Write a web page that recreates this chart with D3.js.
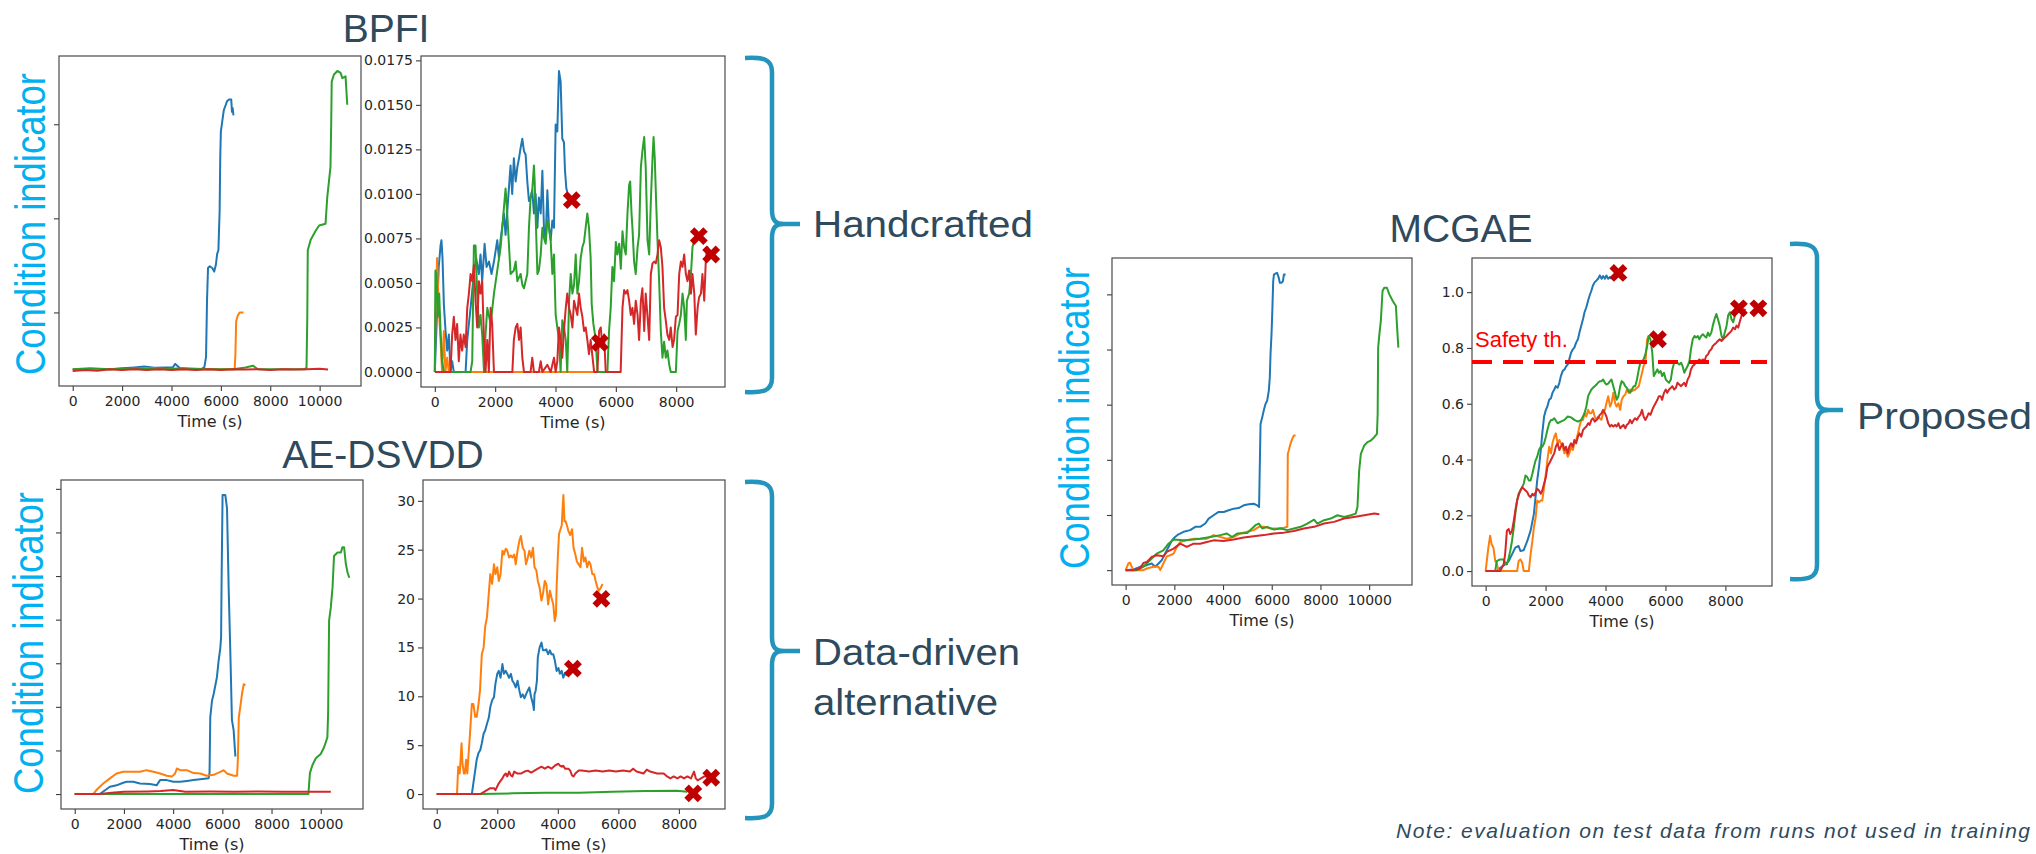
<!DOCTYPE html>
<html>
<head>
<meta charset="utf-8">
<script src="https://cdn.jsdelivr.net/npm/d3@7"></script>
<style>
  body { margin: 0; background: #fff; }
  svg { display: block; }
</style>
</head>
<body>
<svg id="fig" width="2036" height="854"></svg>
<script>
// ---- data: [time (s), condition indicator] ----

const runColors = ["#1f77b4", "#ff7f0e", "#2ca02c", "#d62728"];

// BPFI, full runs
const bpfiAllBlue = [[0,0.0001],[400,0.00005],[900,0.0001],[1500,0.0001],[2000,0.00015],[2500,0.0002],[2900,0.00025],[3300,0.00018],[3800,0.0002],[4050,0.0002],[4150,0.0004],[4350,0.00015],[4800,0.0001],[5200,0.0001],[5330,0.0002],[5400,0.0008],[5440,0.004],[5480,0.0058],[5550,0.0059],[5650,0.0058],[5730,0.0056],[5800,0.006],[5850,0.0066],[5900,0.0068],[5950,0.009],[5975,0.012],[6000,0.0135],[6060,0.0141],[6120,0.0147],[6200,0.015],[6250,0.0152],[6330,0.0153],[6420,0.0153],[6450,0.0146],[6480,0.0148],[6510,0.0144]];
const bpfiAllOrange = [[0,0.0001],[1000,0.0001],[2000,0.0001],[3000,0.00015],[4000,0.0001],[5000,0.0001],[6000,0.0001],[6560,0.0001],[6590,0.001],[6620,0.0028],[6680,0.0031],[6760,0.0033],[6850,0.0033],[6920,0.0033]];
const bpfiAllGreen = [[0,0.0001],[700,0.00015],[1500,0.0001],[2500,0.00015],[3500,0.0001],[4500,0.00015],[5500,0.0001],[6500,0.0001],[7000,0.0002],[7300,0.0003],[7500,0.0001],[8500,0.0001],[9400,0.0001],[9470,0.0002],[9500,0.003],[9520,0.0068],[9640,0.0074],[9840,0.0079],[9980,0.0082],[10240,0.0083],[10310,0.0098],[10440,0.0115],[10470,0.014],[10490,0.0163],[10580,0.0167],[10720,0.0169],[10850,0.0168],[10920,0.0165],[11050,0.0166],[11120,0.015]];
const bpfiAllRed = [[0,0],[500,0.00005],[1000,0.00002],[1500,0.0001],[2000,0.00005],[2500,0.0001],[3000,0.00005],[3500,0.0001],[4000,0.00005],[4500,0.0001],[5000,0.00005],[5500,0.0001],[6000,0.00005],[6500,0.0001],[7000,0.00008],[7500,0.0001],[8000,0.00005],[8500,0.0001],[9000,0.00008],[9500,0.0001],[10000,0.00012],[10340,0.00008]];

// BPFI, test runs
const bpfiTestBlue = [[0,0],[130,0.0059],[190,0.0071],[220,0.0074],[255,0.0064],[300,0.0038],[355,0.0023],[410,0.0012],[465,0.0021],[520,0],[575,0.0006],[630,0],[1020,0],[1075,0.0018],[1185,0.0036],[1295,0.0055],[1370,0.0064],[1460,0.0055],[1515,0.0066],[1570,0.0051],[1650,0.0072],[1715,0.0059],[1795,0.0062],[1880,0.0055],[1960,0.0062],[2070,0.0074],[2125,0.0064],[2180,0.0074],[2290,0.0089],[2345,0.0077],[2455,0.0103],[2510,0.0116],[2565,0.01],[2620,0.012],[2680,0.0107],[2735,0.0115],[2790,0.012],[2845,0.0126],[2900,0.0131],[2955,0.0124],[3010,0.0122],[3065,0.0107],[3120,0.0096],[3175,0.0098],[3230,0.0102],[3285,0.0089],[3340,0.01],[3400,0.0081],[3450,0.0098],[3510,0.0089],[3565,0.0113],[3620,0.0079],[3675,0.0075],[3730,0.0102],[3785,0.0081],[3840,0.0074],[3895,0.0085],[3950,0.0081],[4005,0.0139],[4060,0.0135],[4115,0.0169],[4170,0.0163],[4225,0.0131],[4280,0.0129],[4315,0.0113],[4360,0.0103],[4390,0.0101]];
const bpfiTestOrange = [[0,0],[20,0.003],[75,0.0064],[130,0.0036],[190,0.0018],[240,0],[300,0.0023],[350,0],[410,0.0008],[465,0],[5500,0]];
const bpfiTestGreen = [[0,0],[20,0.0057],[55,0.0055],[100,0.0031],[145,0.0044],[190,0.0023],[240,0.0006],[300,0],[1185,0],[1240,0.0006],[1295,0.0071],[1350,0.0071],[1405,0.0044],[1460,0.0025],[1515,0.0032],[1570,0.0021],[1630,0],[1680,0.0021],[1740,0.0036],[1850,0.0027],[1960,0.0044],[2070,0.0057],[2180,0.007],[2290,0.0092],[2345,0.0103],[2400,0.0089],[2455,0.0072],[2510,0.0055],[2620,0.0057],[2680,0.0062],[2735,0.0051],[2845,0.0055],[2900,0.0049],[2955,0.0047],[3065,0.0055],[3120,0.0081],[3175,0.0098],[3230,0.0102],[3285,0.0116],[3310,0.0107],[3340,0.0089],[3400,0.0055],[3450,0.0057],[3510,0.0066],[3565,0.0081],[3620,0.0075],[3675,0.0072],[3730,0.0085],[3785,0.0081],[3840,0.0074],[3895,0.0055],[3950,0.0066],[4005,0.0032],[4060,0.0025],[4115,0.0018],[4170,0],[4225,0.0029],[4280,0.0025],[4340,0.0018],[4390,0],[4450,0.004],[4505,0.0055],[4560,0.0044],[4615,0.0049],[4670,0.0066],[4725,0.0044],[4780,0.0051],[4835,0.0064],[4890,0.007],[4945,0.0073],[5000,0.0081],[5055,0.0089],[5110,0.0081],[5165,0.0064],[5200,0.0038],[5255,0.0027],[5335,0.0018],[5390,0],[5720,0],[5775,0.0023],[5830,0.0036],[5885,0.0059],[5940,0.0051],[6000,0.0073],[6050,0.0066],[6110,0.0072],[6165,0.0058],[6220,0.0079],[6275,0.007],[6330,0.0066],[6385,0.0089],[6440,0.0105],[6475,0.0107],[6520,0.0089],[6550,0.0081],[6605,0.0062],[6660,0.0055],[6720,0.007],[6770,0.0077],[6830,0.0115],[6880,0.0124],[6940,0.0132],[6990,0.0115],[7050,0.0074],[7105,0.0066],[7160,0.0096],[7215,0.012],[7250,0.0132],[7290,0.012],[7335,0.0096],[7380,0.0074],[7435,0.0051],[7490,0.0023],[7545,0.0008],[7600,0.0017],[7655,0.0008],[7710,0.0012],[7770,0.0004],[7820,0],[7990,0],[8045,0.0023],[8100,0.0027],[8155,0.0032],[8210,0.0044],[8265,0.0036],[8320,0.0018],[8355,0.004],[8430,0.0044],[8490,0.0055],[8540,0.007],[8600,0.0074],[8650,0.0076]];
const bpfiTestRed = [[0,0],[520,0],[575,0.0021],[630,0.0031],[685,0.0018],[740,0.0027],[795,0.0006],[850,0.0021],[905,0.0012],[960,0.0021],[1020,0.0014],[1075,0.0036],[1130,0.0044],[1185,0.0055],[1240,0.0051],[1295,0.006],[1350,0.004],[1405,0.0025],[1460,0.0051],[1515,0.0044],[1570,0.0051],[1630,0.0018],[1680,0],[1740,0.0018],[1790,0],[1850,0.0036],[1900,0.0027],[1960,0],[2570,0],[2620,0.0018],[2680,0.0025],[2735,0.0027],[2790,0.0018],[2845,0.0025],[2900,0.0008],[2955,0],[3175,0],[3230,0.0008],[3285,0],[3450,0],[3510,0.0006],[3565,0],[3730,0.0004],[3840,0],[3950,0.0008],[4005,0],[4060,0.0006],[4115,0.0025],[4170,0.0018],[4225,0.0008],[4280,0.0023],[4340,0.0036],[4390,0.0044],[4450,0.0036],[4505,0.0032],[4560,0.0025],[4615,0.004],[4670,0.0036],[4725,0.0032],[4780,0.0044],[4835,0.0036],[4890,0.0031],[4945,0.0023],[5000,0.0025],[5055,0.0018],[5110,0.001],[5165,0.0018],[5280,0],[5390,0],[5445,0.0023],[5500,0.0025],[5555,0.0014],[5610,0.0021],[5665,0],[6160,0],[6220,0.0036],[6275,0.0046],[6330,0.0044],[6385,0.0046],[6440,0.004],[6495,0.0032],[6550,0.0036],[6605,0.0027],[6660,0.004],[6720,0.0032],[6770,0.0018],[6830,0.004],[6880,0.0047],[6940,0.0023],[6990,0.0044],[7050,0.0031],[7105,0.0018],[7160,0.0055],[7215,0.0061],[7270,0.0062],[7325,0.0061],[7380,0.0066],[7435,0.0074],[7490,0.007],[7545,0.0059],[7600,0.0036],[7655,0.0029],[7710,0.0021],[7770,0.0018],[7820,0.0025],[7880,0.0014],[7930,0.0018],[7990,0.0031],[8045,0.0032],[8100,0.0055],[8155,0.0062],[8210,0.0059],[8265,0.0066],[8320,0.0055],[8375,0.0051],[8430,0.0057],[8490,0.0044],[8540,0.0055],[8600,0.0044],[8650,0.0021],[8710,0.0036],[8760,0.0042],[8820,0.0044],[8870,0.0055],[8930,0.004],[8985,0.0064],[9040,0.007],[9100,0.0066]];
const bpfiFailures = [[4540,0.00965],[5470,0.00164],[8750,0.00763],[9160,0.0066]];

// AE-DSVDD, full runs
const aeAllBlue = [[0,0],[1020,0],[1430,0.84],[1700,1.0],[1970,1.3],[2110,1.4],[2380,1.4],[2650,1.2],[3060,1.14],[3330,1.0],[3470,1.6],[3740,1.6],[4010,1.4],[4290,1.4],[4560,1.5],[4830,1.6],[5100,1.7],[5440,1.8],[5480,2.4],[5510,8.8],[5580,10.7],[5650,11.5],[5780,13.4],[5850,15.3],[5920,16.8],[5950,18.0],[5970,24.5],[6010,34.3],[6120,34.3],[6190,32.8],[6260,23.3],[6330,15.7],[6390,8.5],[6460,7.3],[6530,4.3]];
const aeAllOrange = [[0,0],[750,0],[880,0.46],[1020,0.84],[1160,1.2],[1430,1.8],[1700,2.36],[1970,2.55],[2250,2.55],[2650,2.55],[2920,2.74],[3200,2.55],[3470,2.36],[3740,2.1],[3950,2.0],[4080,2.36],[4150,2.93],[4290,2.74],[4560,2.74],[4830,2.4],[5100,2.36],[5370,2.1],[5650,2.2],[5920,2.55],[6050,2.74],[6190,2.36],[6460,2.1],[6600,2.1],[6630,3.9],[6670,8.8],[6730,10.0],[6800,11.5],[6870,12.6],[6940,12.5]];
const aeAllGreen = [[0,0],[9500,0],[9560,2.4],[9660,3.3],[9800,4.1],[10000,4.6],[10140,5.4],[10270,6.5],[10300,9.2],[10340,19.9],[10410,21.4],[10480,23.7],[10540,27.3],[10680,27.7],[10820,27.7],[10880,28.3],[10950,28.3],[11020,26.4],[11090,25.4],[11160,24.8]];
const aeAllRed = [[0,0],[1020,0],[1500,0.15],[2000,0.25],[3000,0.3],[3500,0.34],[4000,0.46],[4500,0.27],[5500,0.3],[6500,0.27],[7500,0.3],[8500,0.25],[9500,0.27],[10410,0.27]];

// AE-DSVDD, test runs
const aeTestBlue = [[0,0],[1160,0],[1210,1.1],[1270,2.4],[1320,3.5],[1380,4.2],[1440,4.5],[1490,5.2],[1550,6.2],[1600,6.5],[1660,7.2],[1720,7.8],[1770,8.9],[1830,9.6],[1890,9.9],[1940,11.3],[2000,12.3],[2050,12.6],[2110,11.9],[2170,13.3],[2220,12.3],[2280,12.6],[2330,12.3],[2390,11.9],[2450,12.3],[2500,11.6],[2560,11.3],[2610,10.9],[2670,11.6],[2730,10.6],[2780,9.9],[2840,10.2],[2900,9.8],[2950,10.2],[3010,10.6],[3060,10.9],[3120,9.9],[3180,9.2],[3210,8.6],[3230,10.2],[3270,10.6],[3310,11.6],[3340,14.0],[3400,15.0],[3460,15.5],[3510,14.7],[3570,14.7],[3620,14.8],[3680,14.3],[3740,14.7],[3790,14.3],[3850,14.3],[3900,13.7],[3960,12.6],[4020,12.9],[4070,12.3],[4130,12.6],[4180,11.9],[4240,12.4],[4300,12.1]];
const aeTestOrange = [[0,0],[670,0],[710,2.8],[760,2.1],[820,5.2],[850,3.1],[900,2.1],[930,2.1],[970,3.5],[1010,2.1],[1040,3.5],[1100,6.2],[1160,9.2],[1210,9.2],[1270,7.9],[1320,7.9],[1380,9.2],[1430,10.6],[1490,14.3],[1550,15.0],[1600,17.1],[1660,18.1],[1720,20.5],[1770,22.5],[1830,21.5],[1890,23.5],[1940,22.5],[2000,23.2],[2050,21.8],[2110,22.5],[2170,24.9],[2220,24.5],[2280,25.1],[2330,24.9],[2390,24.2],[2450,24.4],[2500,24.2],[2560,24.5],[2610,23.5],[2670,24.9],[2730,25.9],[2780,26.4],[2840,25.2],[2900,24.9],[2950,23.5],[3010,24.2],[3060,24.9],[3120,24.2],[3180,25.2],[3230,23.2],[3290,22.9],[3340,21.8],[3400,21.1],[3460,19.8],[3510,20.5],[3570,21.8],[3620,21.5],[3680,19.4],[3740,20.8],[3790,20.1],[3850,19.4],[3900,17.7],[3940,18.4],[3960,21.1],[4000,24.2],[4040,26.6],[4130,27.5],[4160,29.3],[4185,30.6],[4220,27.9],[4260,27.9],[4300,27.5],[4350,26.9],[4410,26.5],[4470,27.1],[4520,25.2],[4580,24.5],[4630,23.8],[4690,23.5],[4750,23.2],[4800,25.2],[4860,23.8],[4910,24.2],[4970,23.2],[5030,23.8],[5080,23.5],[5140,22.5],[5200,22.5],[5250,21.8],[5310,21.1],[5360,20.8],[5420,21.1],[5475,21.5]];
const aeTestGreen = [[0,0],[1440,0],[2500,0.07],[3600,0.14],[4700,0.14],[5800,0.24],[6900,0.3],[7940,0.34],[8280,0.24]];
const aeTestRed = [[0,0],[1440,0],[1550,0.2],[1660,0.4],[1770,0.6],[1890,0.6],[1940,0.4],[2050,1.1],[2170,1.6],[2220,1.9],[2280,2.1],[2330,1.8],[2390,2.3],[2450,1.9],[2500,1.8],[2560,2.3],[2670,2.1],[2780,2.1],[2900,2.3],[3010,2.4],[3120,2.2],[3230,2.4],[3340,2.6],[3460,2.8],[3570,2.6],[3680,2.8],[3790,2.6],[3900,2.9],[4020,3.1],[4070,2.9],[4130,2.8],[4180,2.9],[4240,2.6],[4350,2.6],[4410,2.4],[4470,1.9],[4520,1.8],[4580,2.1],[4690,2.4],[4800,2.4],[5030,2.3],[5250,2.4],[5480,2.3],[5700,2.4],[5920,2.3],[6150,2.4],[6380,2.3],[6490,2.6],[6600,2.3],[6830,2.1],[6940,2.5],[7050,2.3],[7280,2.1],[7500,2.1],[7610,1.8],[7720,1.6],[7830,1.8],[7950,1.6],[8060,1.8],[8170,1.6],[8280,1.8],[8400,1.6],[8500,2.3],[8560,1.6],[8620,1.4],[8730,1.6],[8840,1.8],[8950,1.8]];
const aeFailures = [[5440,19.97],[4500,12.83],[8475,0.07],[9070,1.67]];

// MCGAE, full runs
const mcAllBlue = [[0,0],[300,0.002],[590,0.012],[870,0.018],[1070,0.024],[1210,0.012],[1350,0.024],[1480,0.036],[1620,0.06],[1760,0.084],[1900,0.108],[2030,0.12],[2170,0.13],[2380,0.139],[2650,0.145],[2860,0.157],[3060,0.157],[3270,0.169],[3410,0.187],[3610,0.199],[3820,0.211],[4030,0.211],[4230,0.217],[4440,0.223],[4640,0.225],[4850,0.235],[5060,0.239],[5260,0.241],[5400,0.235],[5480,0.229],[5540,0.53],[5610,0.554],[5670,0.578],[5740,0.602],[5810,0.614],[5880,0.651],[5920,0.699],[5950,0.783],[5990,0.855],[6020,0.928],[6060,1.048],[6090,1.072],[6150,1.075],[6220,1.078],[6290,1.06],[6330,1.042],[6400,1.042],[6460,1.048],[6500,1.072],[6570,1.072]];
const mcAllOrange = [[0,0],[110,0.024],[180,0.027],[250,0.012],[320,0],[730,0],[870,0.006],[1140,0.012],[1350,0.012],[1420,0],[1550,0.024],[1690,0.05],[1830,0.054],[1970,0.06],[2100,0.084],[2240,0.102],[2510,0.108],[2790,0.114],[3060,0.114],[3340,0.114],[3610,0.127],[3890,0.12],[4160,0.114],[4440,0.12],[4710,0.133],[4990,0.139],[5260,0.145],[5470,0.157],[5680,0.157],[5950,0.151],[6220,0.151],[6500,0.154],[6640,0.157],[6660,0.422],[6700,0.434],[6770,0.458],[6840,0.476],[6910,0.488],[6980,0.488]];
const mcAllGreen = [[0,0],[450,0],[730,0.012],[1000,0.036],[1280,0.06],[1550,0.072],[1760,0.096],[1970,0.111],[2380,0.108],[2790,0.111],[3060,0.114],[3480,0.12],[3890,0.127],[4160,0.133],[4370,0.12],[4580,0.133],[4990,0.135],[5190,0.151],[5330,0.163],[5470,0.169],[5610,0.151],[5810,0.157],[6090,0.147],[6360,0.151],[6640,0.145],[6910,0.151],[7190,0.157],[7460,0.169],[7740,0.183],[7870,0.169],[8150,0.181],[8420,0.187],[8700,0.199],[8970,0.193],[9250,0.199],[9450,0.205],[9520,0.229],[9590,0.361],[9660,0.422],[9800,0.452],[9930,0.464],[10070,0.47],[10210,0.482],[10320,0.494],[10350,0.566],[10370,0.807],[10420,0.855],[10480,0.904],[10550,1.012],[10620,1.024],[10730,1.024],[10830,1.0],[10970,0.976],[11100,0.958],[11140,0.892],[11200,0.807]];
const mcAllRed = [[0,0],[320,0],[590,0.006],[730,0.026],[870,0.03],[1070,0.048],[1280,0.054],[1550,0.05],[1690,0.066],[1970,0.078],[2240,0.096],[2510,0.084],[2790,0.096],[3060,0.096],[3340,0.102],[3610,0.108],[4020,0.106],[4440,0.111],[4850,0.118],[5260,0.123],[5680,0.127],[6090,0.133],[6500,0.136],[6910,0.142],[7320,0.151],[7740,0.157],[8150,0.169],[8560,0.175],[8970,0.187],[9380,0.193],[9800,0.199],[10210,0.205],[10420,0.203]];

// MCGAE, test runs
const mcTestBlue = [[0,0],[370,0],[490,0.012],[650,0.024],[770,0.036],[880,0.06],[990,0.084],[1100,0.09],[1160,0.072],[1270,0.075],[1390,0.108],[1500,0.145],[1610,0.205],[1720,0.325],[1780,0.373],[1840,0.434],[1890,0.494],[1950,0.554],[2010,0.578],[2060,0.59],[2120,0.614],[2180,0.62],[2230,0.639],[2290,0.651],[2340,0.663],[2400,0.657],[2460,0.675],[2510,0.699],[2570,0.717],[2630,0.723],[2680,0.733],[2740,0.741],[2790,0.759],[2850,0.783],[2910,0.795],[2960,0.801],[3020,0.819],[3080,0.831],[3130,0.855],[3190,0.88],[3250,0.904],[3300,0.928],[3360,0.946],[3420,0.97],[3470,0.988],[3530,1.006],[3580,1.024],[3640,1.036],[3700,1.042],[3750,1.048],[3810,1.06],[3870,1.048],[3920,1.058],[3980,1.048],[4030,1.06],[4090,1.048],[4150,1.054],[4200,1.048]];
const mcTestOrange = [[0,0],[90,0.084],[150,0.127],[200,0.096],[260,0.084],[320,0.036],[370,0.03],[430,0],[1050,0],[1100,0.036],[1160,0.042],[1220,0.03],[1270,0],[1440,0],[1500,0.06],[1560,0.108],[1610,0.157],[1670,0.193],[1720,0.253],[1780,0.247],[1840,0.253],[1890,0.253],[1950,0.301],[2010,0.349],[2060,0.398],[2120,0.446],[2180,0.422],[2230,0.458],[2290,0.482],[2340,0.494],[2400,0.458],[2460,0.47],[2510,0.458],[2570,0.446],[2630,0.422],[2680,0.434],[2740,0.41],[2790,0.422],[2850,0.446],[2910,0.434],[2960,0.458],[3020,0.47],[3080,0.494],[3130,0.518],[3190,0.542],[3250,0.542],[3300,0.566],[3360,0.554],[3420,0.578],[3470,0.566],[3530,0.566],[3580,0.578],[3640,0.554],[3700,0.542],[3750,0.554],[3860,0.542],[3920,0.566],[3980,0.578],[4030,0.602],[4090,0.627],[4150,0.59],[4200,0.602],[4260,0.639],[4320,0.602],[4370,0.59],[4430,0.602],[4490,0.578],[4540,0.614],[4600,0.627],[4660,0.633],[4710,0.651],[4770,0.639],[4820,0.651],[4880,0.645],[4990,0.651],[5110,0.663],[5220,0.711],[5270,0.735],[5330,0.747],[5390,0.831],[5440,0.843],[5500,0.843]];
const mcTestGreen = [[0,0],[320,0],[370,0.036],[480,0.042],[600,0.042],[650,0.03],[710,0.024],[770,0.048],[820,0.072],[880,0.108],[940,0.157],[990,0.205],[1050,0.253],[1100,0.277],[1160,0.289],[1220,0.301],[1270,0.313],[1330,0.343],[1390,0.337],[1440,0.325],[1500,0.325],[1560,0.349],[1610,0.373],[1670,0.398],[1720,0.41],[1780,0.434],[1840,0.446],[1890,0.446],[1950,0.458],[2010,0.482],[2060,0.506],[2120,0.53],[2180,0.542],[2230,0.542],[2290,0.548],[2400,0.53],[2510,0.536],[2630,0.542],[2740,0.554],[2850,0.551],[2960,0.542],[3080,0.536],[3190,0.542],[3300,0.566],[3360,0.59],[3420,0.627],[3470,0.639],[3530,0.651],[3580,0.657],[3640,0.663],[3700,0.669],[3750,0.675],[3810,0.681],[3870,0.681],[3920,0.687],[3980,0.675],[4030,0.669],[4090,0.672],[4150,0.681],[4200,0.687],[4260,0.663],[4320,0.639],[4370,0.614],[4430,0.627],[4490,0.663],[4540,0.681],[4600,0.675],[4660,0.663],[4710,0.657],[4770,0.645],[4820,0.639],[4880,0.651],[4940,0.663],[4990,0.663],[5050,0.687],[5110,0.723],[5160,0.747],[5220,0.753],[5270,0.759],[5330,0.777],[5390,0.807],[5440,0.843],[5500,0.831],[5560,0.783],[5610,0.699],[5670,0.711],[5730,0.723],[5780,0.711],[5840,0.717],[5890,0.699],[5950,0.711],[6010,0.687],[6060,0.681],[6120,0.675],[6180,0.687],[6230,0.723],[6290,0.747],[6350,0.753],[6400,0.747],[6460,0.741],[6520,0.747],[6570,0.735],[6630,0.711],[6680,0.723],[6740,0.735],[6800,0.753],[6850,0.795],[6910,0.831],[6970,0.843],[7020,0.837],[7080,0.843],[7130,0.831],[7190,0.843],[7250,0.849],[7300,0.843],[7360,0.837],[7420,0.855],[7470,0.843],[7530,0.855],[7580,0.88],[7640,0.904],[7700,0.922],[7750,0.904],[7810,0.88],[7870,0.843],[7920,0.831],[7980,0.855],[8040,0.88],[8090,0.916],[8150,0.928],[8200,0.904],[8260,0.892],[8320,0.916],[8370,0.934]];
const mcTestRed = [[0,0],[490,0],[540,0.012],[600,0.024],[650,0.06],[710,0.145],[770,0.151],[820,0.133],[880,0.145],[940,0.181],[990,0.217],[1050,0.253],[1100,0.271],[1160,0.289],[1220,0.301],[1270,0.295],[1330,0.289],[1390,0.283],[1440,0.271],[1500,0.265],[1560,0.277],[1610,0.271],[1670,0.283],[1720,0.295],[1780,0.289],[1840,0.277],[1890,0.289],[1950,0.313],[2010,0.337],[2060,0.373],[2120,0.386],[2180,0.398],[2230,0.41],[2290,0.422],[2340,0.446],[2400,0.458],[2460,0.434],[2510,0.446],[2570,0.458],[2630,0.434],[2680,0.446],[2740,0.422],[2790,0.446],[2850,0.458],[2910,0.446],[2960,0.47],[3020,0.458],[3080,0.482],[3130,0.494],[3190,0.482],[3250,0.506],[3300,0.512],[3360,0.518],[3420,0.53],[3470,0.524],[3530,0.542],[3580,0.548],[3640,0.536],[3700,0.542],[3750,0.548],[3810,0.56],[3870,0.566],[3920,0.578],[3980,0.566],[4030,0.554],[4090,0.53],[4150,0.518],[4200,0.524],[4260,0.518],[4320,0.524],[4370,0.518],[4430,0.53],[4490,0.512],[4540,0.518],[4600,0.524],[4660,0.512],[4710,0.524],[4770,0.53],[4820,0.542],[4880,0.53],[4940,0.542],[4990,0.548],[5050,0.542],[5110,0.554],[5160,0.56],[5220,0.578],[5270,0.554],[5330,0.542],[5390,0.554],[5440,0.566],[5500,0.56],[5560,0.578],[5610,0.59],[5670,0.602],[5730,0.614],[5780,0.627],[5840,0.627],[5890,0.614],[5950,0.639],[6010,0.651],[6060,0.639],[6120,0.651],[6180,0.657],[6230,0.663],[6290,0.651],[6350,0.657],[6400,0.675],[6460,0.669],[6520,0.663],[6570,0.669],[6630,0.675],[6680,0.663],[6740,0.687],[6800,0.699],[6850,0.723],[6910,0.735],[6970,0.741],[7020,0.747],[7080,0.753],[7130,0.759],[7190,0.753],[7250,0.759],[7300,0.753],[7360,0.771],[7420,0.777],[7470,0.789],[7530,0.795],[7580,0.807],[7640,0.813],[7700,0.819],[7750,0.825],[7810,0.831],[7870,0.825],[7920,0.831],[7980,0.837],[8040,0.843],[8090,0.849],[8150,0.855],[8200,0.861],[8260,0.873],[8320,0.867],[8370,0.88],[8430,0.873],[8490,0.898],[8540,0.916],[8600,0.928],[8660,0.94]];
const mcFailures = [[4430,1.069],[5750,0.831],[8450,0.942],[9100,0.942]];
const safetyThreshold = 0.75;

// tick labels
const fullRunTicks = [0, 2000, 4000, 6000, 8000, 10000];
const testRunTicks = [0, 2000, 4000, 6000, 8000];
const bpfiTicks = [0, 0.0025, 0.005, 0.0075, 0.01, 0.0125, 0.015, 0.0175];
const bpfiAllTicks = [0.0033, 0.0086, 0.0139];
const aeTicks = [0, 5, 10, 15, 20, 25, 30];
const aeAllTicks = [0, 5, 10, 15, 20, 25, 30, 35];
const mcTicks = [0, 0.2, 0.4, 0.6, 0.8, 1.0];

// ---- layout ----
const panels = [
  { x0: 59,   x1: 361,  y0: 56,  y1: 386, series: [bpfiAllBlue, bpfiAllOrange, bpfiAllGreen, bpfiAllRed], xTicks: fullRunTicks, yTicks: bpfiAllTicks },
  { x0: 421,  x1: 725,  y0: 56,  y1: 387, series: [bpfiTestBlue, bpfiTestOrange, bpfiTestGreen, bpfiTestRed], markers: bpfiFailures, xTicks: testRunTicks, yTicks: bpfiTicks, yFormat: ".4f" },
  { x0: 61,   x1: 363,  y0: 480, y1: 809, series: [aeAllBlue, aeAllOrange, aeAllGreen, aeAllRed], xTicks: fullRunTicks, yTicks: aeAllTicks },
  { x0: 423,  x1: 725,  y0: 480, y1: 809, series: [aeTestBlue, aeTestOrange, aeTestGreen, aeTestRed], markers: aeFailures, xTicks: testRunTicks, yTicks: aeTicks, yFormat: "d" },
  { x0: 1112, x1: 1412, y0: 258, y1: 585, series: [mcAllBlue, mcAllOrange, mcAllGreen, mcAllRed], xTicks: fullRunTicks, yTicks: mcTicks },
  { x0: 1472, x1: 1772, y0: 258, y1: 586, series: [mcTestBlue, mcTestOrange, mcTestGreen, mcTestRed], markers: mcFailures, xTicks: testRunTicks, yTicks: mcTicks, yFormat: ".1f", threshold: safetyThreshold }
];

const svg = d3.select("#fig");
const slate = "#2e4a5c";
const cyan = "#00b0f0";
const braceBlue = "#2394bb";

function drawPanel(p) {
  const pts = p.series.flat().concat(p.markers || []);
  const tExt = d3.extent(pts, d => d[0]);
  const vExt = d3.extent(pts, d => d[1]);
  const padT = (tExt[1] - tExt[0]) * 0.05;
  const padV = (vExt[1] - vExt[0]) * 0.05;
  const x = d3.scaleLinear().domain([tExt[0] - padT, tExt[1] + padT]).range([p.x0, p.x1]);
  const y = d3.scaleLinear().domain([vExt[0] - padV, vExt[1] + padV]).range([p.y1, p.y0]);

  const g = svg.append("g");

  const xa = g.append("g")
    .attr("transform", `translate(0,${p.y1})`)
    .call(d3.axisBottom(x).tickValues(p.xTicks).tickSize(5).tickPadding(5).tickFormat(d3.format("d")));
  const ya = g.append("g")
    .attr("transform", `translate(${p.x0},0)`)
    .call(d3.axisLeft(y).tickValues(p.yTicks).tickSize(5).tickPadding(3)
      .tickFormat(p.yFormat ? d3.format(p.yFormat) : () => ""));

  [xa, ya].forEach(a => {
    a.select(".domain").remove();
    a.selectAll("line").attr("stroke", "#3c3c3c").attr("stroke-width", 1.1);
    a.selectAll("text")
      .attr("fill", "#262626")
      .style("font-family", "'DejaVu Sans', sans-serif")
      .style("font-size", "14px");
  });

  const line = d3.line().x(d => x(d[0])).y(d => y(d[1]));
  g.selectAll("path.run")
    .data(p.series)
    .enter()
    .append("path")
    .attr("class", "run")
    .attr("d", line)
    .attr("fill", "none")
    .attr("stroke", (d, i) => runColors[i])
    .attr("stroke-width", 2)
    .attr("stroke-linejoin", "round");

  // frame
  g.append("rect")
    .attr("x", p.x0).attr("y", p.y0)
    .attr("width", p.x1 - p.x0).attr("height", p.y1 - p.y0)
    .attr("fill", "none")
    .attr("stroke", "#4a4a4a")
    .attr("stroke-width", 1.2);

  if (p.threshold != null) {
    g.append("line")
      .attr("x1", p.x0).attr("x2", p.x1 - 5)
      .attr("y1", y(p.threshold)).attr("y2", y(p.threshold))
      .attr("stroke", "#ff0000")
      .attr("stroke-width", 4)
      .attr("stroke-dasharray", "20,11");
    g.append("text")
      .attr("x", p.x0 + 3)
      .attr("y", y(p.threshold) - 15)
      .attr("fill", "#ff0000")
      .style("font-family", "'Liberation Sans', Arial, sans-serif")
      .style("font-size", "22px")
      .text("Safety th.");
  }

  if (p.markers) {
    g.selectAll("path.fail")
      .data(p.markers)
      .enter()
      .append("path")
      .attr("class", "fail")
      .attr("d", d3.symbol(d3.symbolCross, 200))
      .attr("transform", d => `translate(${x(d[0])},${y(d[1])}) rotate(45)`)
      .attr("fill", "#c00000");
  }

  g.append("text")
    .attr("x", (p.x0 + p.x1) / 2)
    .attr("y", p.y1 + 41)
    .attr("text-anchor", "middle")
    .attr("fill", "#262626")
    .style("font-family", "'DejaVu Sans', sans-serif")
    .style("font-size", "16px")
    .text("Time (s)");
}

panels.forEach(drawPanel);

// method titles
[["BPFI", 386, 42], ["AE-DSVDD", 383, 468], ["MCGAE", 1461, 242]].forEach(([t, cx, by]) => {
  svg.append("text")
    .attr("x", cx).attr("y", by)
    .attr("text-anchor", "middle")
    .attr("fill", slate)
    .style("font-family", "'Liberation Sans', Arial, sans-serif")
    .style("font-size", "39px")
    .text(t);
});

// rotated y labels
[[45, 224], [43, 643], [1089, 418]].forEach(([bx, cy]) => {
  svg.append("text")
    .attr("transform", `translate(${bx},${cy}) rotate(-90)`)
    .attr("text-anchor", "middle")
    .attr("fill", cyan)
    .attr("textLength", 302)
    .attr("lengthAdjust", "spacingAndGlyphs")
    .style("font-family", "'Liberation Sans', Arial, sans-serif")
    .style("font-size", "42px")
    .text("Condition indicator");
});

// curly braces
function brace(x0, xv, xt, yTop, yBot, yTip) {
  const p = d3.path();
  p.moveTo(x0, yTop);
  p.bezierCurveTo(x0 + 18, yTop - 1, xv, yTop + 1, xv, yTop + 14);
  p.lineTo(xv, yTip - 14);
  p.bezierCurveTo(xv, yTip - 3, xv + 4, yTip, xv + 12, yTip);
  p.lineTo(xt, yTip);
  p.moveTo(xv + 12, yTip);
  p.bezierCurveTo(xv + 4, yTip, xv, yTip + 3, xv, yTip + 14);
  p.lineTo(xv, yBot - 14);
  p.bezierCurveTo(xv, yBot - 1, x0 + 18, yBot + 1, x0, yBot);
  svg.append("path")
    .attr("d", p.toString())
    .attr("fill", "none")
    .attr("stroke", braceBlue)
    .attr("stroke-width", 4.5)
    .attr("stroke-linecap", "butt");
}
brace(745, 772, 800, 58, 392, 224);
brace(745, 772, 800, 482, 818, 651);
brace(1790, 1817, 1843, 244, 579, 410);

// group labels
const groupLabels = [
  ["Handcrafted", 813, 237, 220],
  ["Data-driven", 813, 665, 207],
  ["alternative", 813, 715, 185],
  ["Proposed", 1857, 429, 175]
];
groupLabels.forEach(([t, x, y, w]) => {
  svg.append("text")
    .attr("x", x).attr("y", y)
    .attr("fill", slate)
    .attr("textLength", w)
    .attr("lengthAdjust", "spacingAndGlyphs")
    .style("font-family", "'Liberation Sans', Arial, sans-serif")
    .style("font-size", "37px")
    .text(t);
});

svg.append("text")
  .attr("x", 1396).attr("y", 838)
  .attr("fill", slate)
  .attr("textLength", 634)
  .attr("lengthAdjust", "spacing")
  .style("font-family", "'Liberation Sans', Arial, sans-serif")
  .style("font-style", "italic")
  .style("font-size", "21px")
  .text("Note: evaluation on test data from runs not used in training");
</script>
</body>
</html>
